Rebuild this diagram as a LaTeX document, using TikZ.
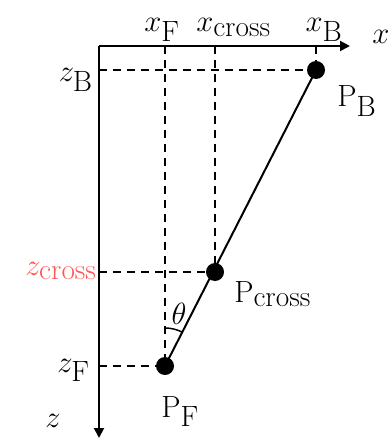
\RequirePackage{fix-cm}
\documentclass[tikz,border=0pt]{standalone}
\usepackage{tikz}
\usetikzlibrary{arrows.meta,angles}
\definecolor{zred}{RGB}{255,85,85}
\DeclareMathSizes{23}{23}{22}{16}

\begin{document}
\begin{tikzpicture}[
  x=0.75pt, y=-0.75pt,
  lbl/.style={font=\fontsize{23}{27}\selectfont, inner sep=0pt},
  dot/.style={circle, fill=black, minimum size=13.5pt, inner sep=0pt},
  axis/.style={line width=1.5pt, -{Triangle[length=7.5pt, width=7.5pt]}},
  guide/.style={line width=1.4pt, dash pattern=on 6pt off 4.5pt},
  rod/.style={line width=1.5pt}
]
\useasboundingbox (0,0) rectangle (388,441);

\coordinate (o) at (99,46);
\coordinate (xend) at (350,46);
\coordinate (zend) at (99,438);
\coordinate (pB) at (316,70);
\coordinate (pC) at (215,272);
\coordinate (pF) at (165,366);

% axes
\draw[axis] (o) -- (xend);
\draw[axis] (o) -- (zend);

% guide lines
\draw[guide] (o -| pF) coordinate (xFtop) -- (pF);
\draw[guide] (o -| pC) -- (pC);
\draw[guide] (o -| pB) -- (pB);
\draw[guide] (o |- pB) -- (pB);
\draw[guide] (o |- pC) -- (pC);
\draw[guide] (o |- pF) -- (pF);

\draw[rod] (pF) -- (pB);
\pic[draw, line width=1.1pt, angle radius=28.5pt] {angle=pC--pF--xFtop};

\node[dot] (dB) at (pB) {};
\node[dot] (dC) at (pC) {};
\node[dot] (dF) at (pF) {};

% labels
\node[lbl, anchor=base] (lxF) at (162,32) {$x_{\mathrm{F}}$};
\node[lbl, anchor=base west] (lxC) at (196,32) {$x_{\mathrm{cross}}$};
\node[lbl, anchor=base] (lxB) at (324,32) {$x_{\mathrm{B}}$};
\node[lbl, anchor=base west] (lx) at (372,44) {$x$};
\node[lbl, anchor=base east] (lzB) at (93,82) {$z_{\mathrm{B}}$};
\node[lbl, anchor=base east, text=zred] (lzC) at (97,275) {$z_{\mathrm{cross}}$};
\node[lbl, anchor=base east] (lzF) at (90,372) {$z_{\mathrm{F}}$};
\node[lbl, anchor=base west] (lz) at (45,427) {$z$};
\node[lbl, anchor=base west] (lpB) at (337,107) {$\mathrm{P}_{\mathrm{B}}$};
\node[lbl, anchor=base west] (lpC) at (234,302) {$\mathrm{P}_{\mathrm{cross}}$};
\node[lbl, anchor=base west] (lpF) at (161,417) {$\mathrm{P}_{\mathrm{F}}$};
\node[lbl] (lth) at (179,314) {$\theta$};
\end{tikzpicture}
\end{document}
